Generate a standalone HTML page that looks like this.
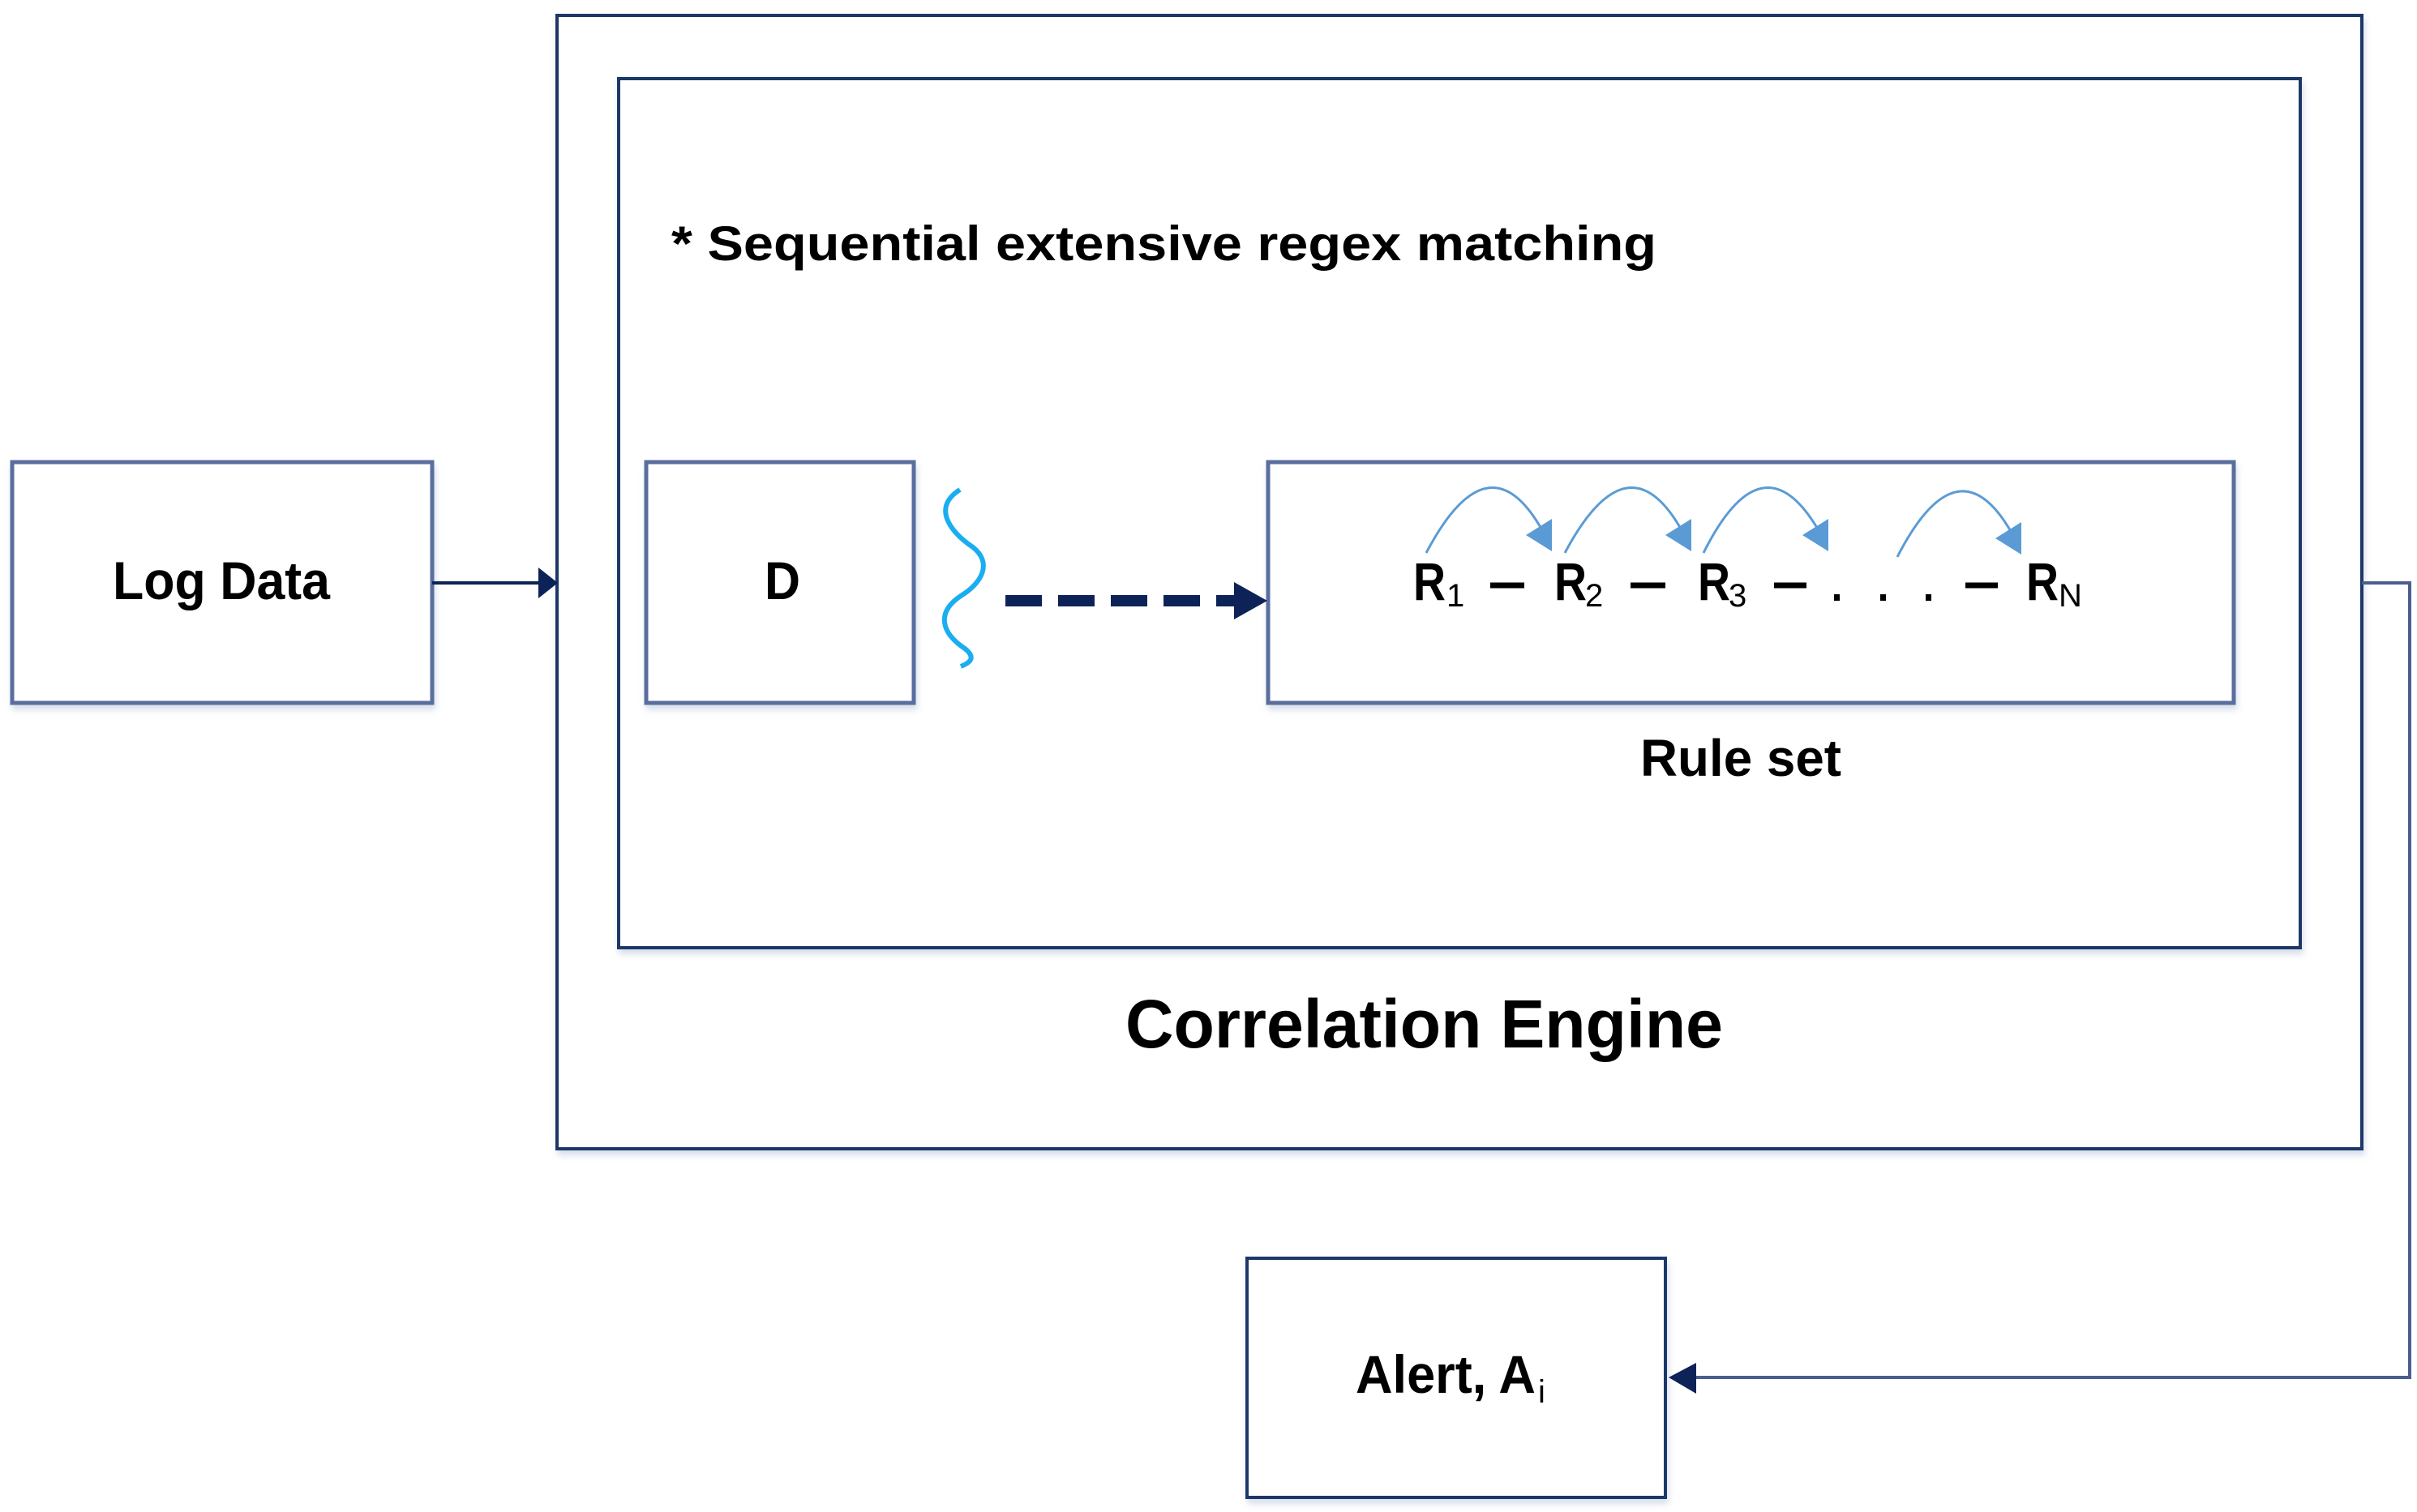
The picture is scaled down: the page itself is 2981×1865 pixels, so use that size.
<!DOCTYPE html>
<html><head><meta charset="utf-8"><style>
html,body{margin:0;padding:0;background:#fff;}
svg{display:block;}
text{font-family:"Liberation Sans",sans-serif;font-weight:bold;fill:#000;}
</style></head><body>
<svg width="2981" height="1865" viewBox="0 0 2981 1865" xmlns="http://www.w3.org/2000/svg">
<defs>
<filter id="sh" x="-5%" y="-5%" width="110%" height="115%"><feDropShadow dx="2" dy="6" stdDeviation="4" flood-color="#8fa3c8" flood-opacity="0.35"/></filter>
</defs>
<rect x="687" y="19" width="2226" height="1398" fill="#fff" stroke="#1f3868" stroke-width="4" filter="url(#sh)"/>
<rect x="763" y="97" width="2074" height="1072" fill="#fff" stroke="#1f3868" stroke-width="4" filter="url(#sh)"/>
<rect x="15" y="570" width="518" height="297" fill="#fff" stroke="#5a6e9e" stroke-width="5" filter="url(#sh)"/>
<rect x="797" y="570" width="330" height="297" fill="#fff" stroke="#5a6e9e" stroke-width="5" filter="url(#sh)"/>
<rect x="1564" y="570" width="1191" height="297" fill="#fff" stroke="#5a6e9e" stroke-width="5" filter="url(#sh)"/>
<rect x="1538" y="1552" width="516" height="295" fill="#fff" stroke="#1f3868" stroke-width="4" filter="url(#sh)"/>

<line x1="533" y1="719" x2="668" y2="719" stroke="#0d2358" stroke-width="4"/>
<polygon points="664,700 688,719 664,738" fill="#0d2358"/>

<polyline points="2913,719 2972,719 2972,1699 2090,1699" fill="none" stroke="#4a5f90" stroke-width="4"/>
<polygon points="2092,1681 2058,1699 2092,1719" fill="#0d2358"/>

<path d="M1184,604 C1150,625 1170,655 1200,675 C1225,695 1210,720 1185,735 C1155,755 1160,780 1190,800 C1205,812 1195,818 1185,822" fill="none" stroke="#1aaef0" stroke-width="6"/>

<line x1="1240" y1="741" x2="1522" y2="741" stroke="#0d2358" stroke-width="14" stroke-dasharray="45,20"/>
<polygon points="1522,718 1563,741 1522,764" fill="#0d2358"/>

<g fill="none" stroke="#5b9bd5" stroke-width="3">
<path d="M1759,682 Q1839,530 1908,665"/>
<path d="M1930,682 Q2011,530 2080,665"/>
<path d="M2101,682 Q2177,530 2249,665"/>
<path d="M2340,687 Q2418,535 2487,668"/>
</g>
<g fill="#5b9bd5">
<polygon points="1914,680 1882,660 1914,640"/>
<polygon points="2086,680 2054,660 2086,640"/>
<polygon points="2255,680 2223,660 2255,640"/>
<polygon points="2493,684 2461,664 2493,644"/>
</g>

<text x="828" y="321" font-size="60" textLength="1215" lengthAdjust="spacingAndGlyphs">* Sequential extensive regex matching</text>
<text x="139" y="739" font-size="66" textLength="268" lengthAdjust="spacingAndGlyphs">Log Data</text>
<text x="943" y="739" font-size="66" textLength="44" lengthAdjust="spacingAndGlyphs">D</text>
<text x="2023" y="957" font-size="64" textLength="248" lengthAdjust="spacingAndGlyphs">Rule set</text>
<text x="1388" y="1292" font-size="84" textLength="737" lengthAdjust="spacingAndGlyphs">Correlation Engine</text>
<text x="1672" y="1718" font-size="66" textLength="222" lengthAdjust="spacingAndGlyphs">Alert, A</text>
<text x="1897" y="1730" font-size="40" style="font-weight:normal">i</text>

<g font-size="66">
<text x="1743" y="740" textLength="40" lengthAdjust="spacingAndGlyphs">R</text><text x="1784" y="748" font-size="40" style="font-weight:normal">1</text>
<text x="1917" y="740" textLength="40" lengthAdjust="spacingAndGlyphs">R</text><text x="1955" y="748" font-size="40" style="font-weight:normal">2</text>
<text x="2094" y="740" textLength="40" lengthAdjust="spacingAndGlyphs">R</text><text x="2132" y="748" font-size="40" style="font-weight:normal">3</text>
<text x="2499" y="740" textLength="40" lengthAdjust="spacingAndGlyphs">R</text><text x="2539" y="748" font-size="40" style="font-weight:normal">N</text>
</g>
<g stroke="#000" stroke-width="7">
<line x1="1838" y1="722" x2="1880" y2="722"/>
<line x1="2011" y1="722" x2="2054" y2="722"/>
<line x1="2188" y1="722" x2="2228" y2="722"/>
<line x1="2424" y1="722" x2="2464" y2="722"/>
</g>
<g fill="#000">
<rect x="2262" y="733" width="7" height="8"/>
<rect x="2319" y="733" width="7" height="8"/>
<rect x="2375" y="733" width="7" height="8"/>
</g>
</svg>
</body></html>
